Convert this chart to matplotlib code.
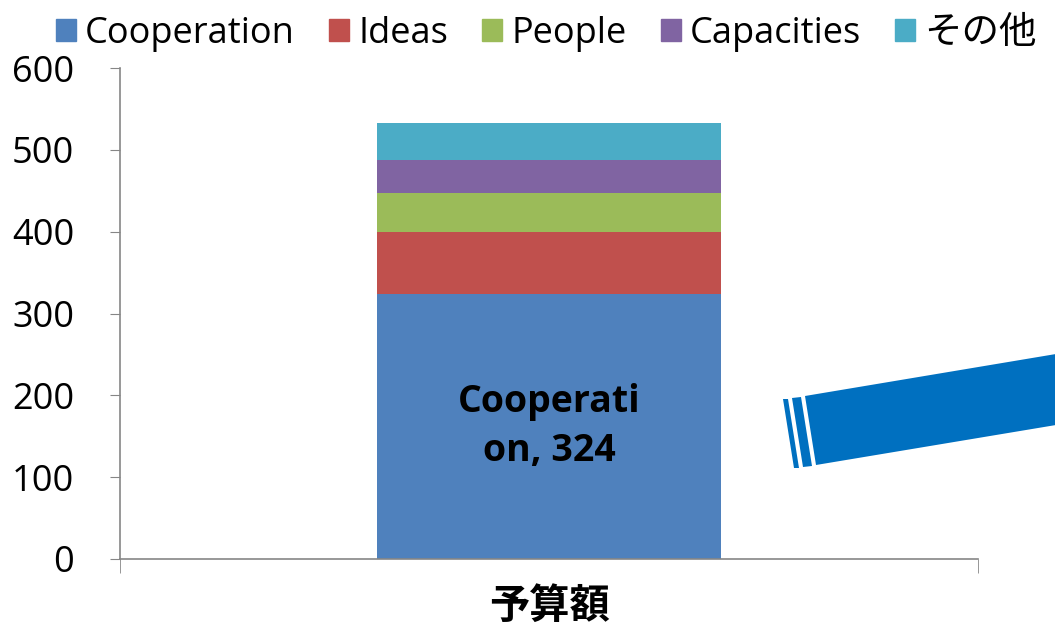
import matplotlib
matplotlib.use('Agg')
import matplotlib.pyplot as plt
from matplotlib.patches import Polygon, Patch

plt.rcParams['font.family'] = ['Open Sans', 'Noto Sans CJK JP', 'DejaVu Sans']

# data (budget)
category = ['予算額']
series_names = ['Cooperation', 'Ideas', 'People', 'Capacities', 'その他']
series_values = [324, 75, 48, 41, 45]
series_colors = ['#4F81BD', '#C0504D', '#9BBB59', '#8064A2', '#4BACC6']
y_ticks = [0, 100, 200, 300, 400, 500, 600]

W, H = 1055, 633
fig = plt.figure(figsize=(W / 100, H / 100), dpi=100)
ax = fig.add_axes([120 / W, 1 - 559 / H, (978 - 120) / W, (559 - 68) / H])

bottom = 0
for name, val, col in zip(series_names, series_values, series_colors):
    ax.bar(0, val, width=0.4, bottom=bottom, color=col, label=name)
    bottom += val

# data label on the first segment
ax.text(0, series_values[0] / 2, 'Cooperati\non, %d' % series_values[0],
        ha='center', va='center', fontsize=27, fontweight='bold',
        color='black', linespacing=1.4)

ax.set_xlim(-0.5, 0.5)
ax.set_ylim(0, 600)
ax.set_yticks(y_ticks)
ax.set_yticklabels([str(t) for t in y_ticks], fontsize=26)
ax.set_xticks([0])
ax.set_xticklabels(category, fontsize=29, fontweight='bold')
ax.set_xticks([-0.5, 0.5], minor=True)
ax.tick_params(axis='x', which='major', length=0, pad=21)
ax.tick_params(axis='x', which='minor', length=10, color='#868686', direction='out')
ax.tick_params(axis='y', length=7, color='#868686', pad=26)
for s in ['top', 'right']:
    ax.spines[s].set_visible(False)
for s in ['left', 'bottom']:
    ax.spines[s].set_color('#868686')
    ax.spines[s].set_linewidth(1.2)

handles = [Patch(color=c) for c in series_colors]
leg = fig.legend(handles, series_names, loc='upper center', bbox_to_anchor=(0.518, 1.03),
                 ncol=5, frameon=False, fontsize=26, handlelength=0.55, handleheight=0.55,
                 handletextpad=0.25, columnspacing=0.95)
leg.get_texts()[-1].set_fontsize(27)


# decorative blue shape on the right (pixel coords of the slide)
def fig_xy(pts):
    return [(x / W, 1 - y / H) for x, y in pts]


shape_color = '#0070C0'
shapes = [
    [(805, 396), (1056, 354), (1056, 425), (816, 465)],
    [(792, 398), (801, 397), (812, 466), (803, 467)],
    [(783, 399), (788, 399), (799, 468), (794, 468)],
]
for pts in shapes:
    fig.add_artist(Polygon(fig_xy(pts), closed=True, color=shape_color,
                           transform=fig.transFigure, lw=0))

fig.savefig('out.png', dpi=100)
